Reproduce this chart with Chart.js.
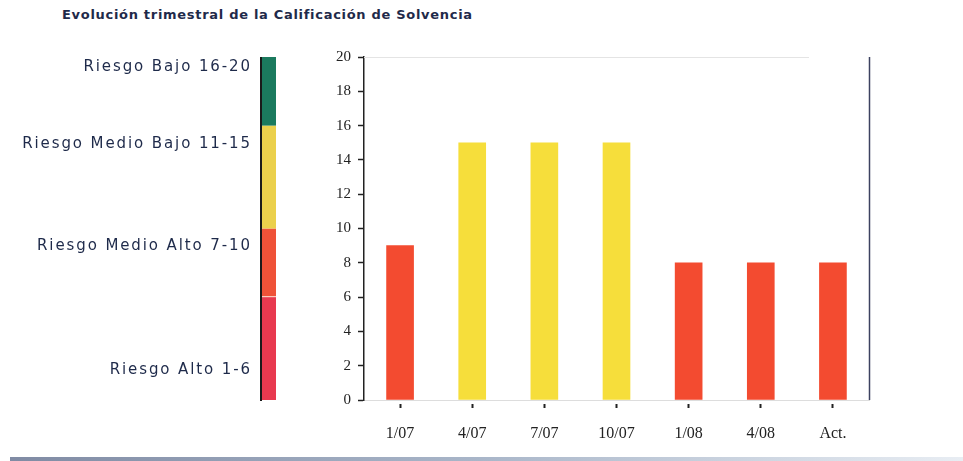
<!DOCTYPE html>
<html lang="es">
<head>
<meta charset="utf-8">
<title>Evolución trimestral de la Calificación de Solvencia</title>
<script src="https://cdn.jsdelivr.net/npm/chart.js@4.4.1/dist/chart.umd.min.js"></script>
<style>
  html, body { margin: 0; padding: 0; background: #fff; }
  .wrap { position: relative; width: 963px; height: 461px; overflow: hidden; }
  #title {
    position: absolute; left: 62px; top: 7px;
    font: bold 13px "DejaVu Sans", Verdana, sans-serif;
    letter-spacing: 0.7px;
    color: #1f2a4a; white-space: nowrap;
  }
  canvas { position: absolute; left: 0; top: 0; }
</style>
</head>
<body>
<div class="wrap">
  <div id="title">Evolución trimestral de la Calificación de Solvencia</div>
  <canvas id="chart" width="963" height="461"></canvas>
</div>
<script>
// ---- data ----
const periods = ['1/07', '4/07', '7/07', '10/07', '1/08', '4/08', 'Act.'];
const scores  = [9, 15, 15, 15, 8, 8, 8];
const barColors = ['#f34b30', '#f6de3b', '#f6de3b', '#f6de3b', '#f34b30', '#f34b30', '#f34b30'];

const yTicks = [0, 2, 4, 6, 8, 10, 12, 14, 16, 18, 20];

// risk scale shown on the left (from, to on the score axis)
const riskFrom   = [0, 6, 10, 16];
const riskTo     = [6, 10, 16, 20];
const riskColors = ['#e8394f', '#ef5238', '#ebd04c', '#1b7a5e'];
const riskLabels = ['Riesgo Alto 1-6', 'Riesgo Medio Alto 7-10', 'Riesgo Medio Bajo 11-15', 'Riesgo Bajo 16-20'];
const riskLabelAt = [1.75, 9, 14.9, 19.4];

// ---- extra drawing: risk band, frame lines, bottom rule ----
const decor = {
  id: 'decor',
  afterDraw(chart) {
    const { ctx, chartArea: a, scales: { y } } = chart;
    ctx.save();

    // faint top line and dark right border of the plot
    ctx.strokeStyle = '#e4e4e4';
    ctx.lineWidth = 1;
    ctx.beginPath();
    ctx.moveTo(a.left, a.top + 0.5);
    ctx.lineTo(a.right - 60, a.top + 0.5);
    ctx.stroke();

    ctx.strokeStyle = '#3c4260';
    ctx.lineWidth = 1.5;
    ctx.beginPath();
    ctx.moveTo(a.right + 0.5, a.top);
    ctx.lineTo(a.right + 0.5, a.bottom);
    ctx.stroke();

    // risk colour band on the same y scale
    const bx = 262, bw = 14;
    riskFrom.forEach((f, i) => {
      const top = y.getPixelForValue(riskTo[i]);
      const bot = y.getPixelForValue(f);
      ctx.fillStyle = riskColors[i];
      ctx.fillRect(bx, top, bw, bot - top);
    });
    // light divider between the two reds
    ctx.strokeStyle = 'rgba(255,230,220,0.9)';
    ctx.lineWidth = 1;
    ctx.beginPath();
    ctx.moveTo(bx, y.getPixelForValue(6) - 0.5);
    ctx.lineTo(bx + bw, y.getPixelForValue(6) - 0.5);
    ctx.stroke();
    // dark left edge
    ctx.strokeStyle = '#1a1a1a';
    ctx.lineWidth = 2;
    ctx.beginPath();
    ctx.moveTo(bx - 1, y.getPixelForValue(20));
    ctx.lineTo(bx - 1, y.getPixelForValue(0) + 1);
    ctx.stroke();

    // risk labels
    ctx.fillStyle = '#1e2a4a';
    ctx.font = '15px "DejaVu Sans", Verdana, sans-serif';
    ctx.letterSpacing = '1.9px';
    ctx.textAlign = 'right';
    ctx.textBaseline = 'middle';
    riskLabels.forEach((t, i) => {
      ctx.fillText(t, 252, y.getPixelForValue(riskLabelAt[i]));
    });
    ctx.letterSpacing = '0px';

    // bottom rule
    const g = ctx.createLinearGradient(0, 0, chart.width, 0);
    g.addColorStop(0, '#7f8aa3');
    g.addColorStop(0.5, '#a9b6c9');
    g.addColorStop(1, '#e8edf3');
    ctx.fillStyle = g;
    ctx.fillRect(10, 457, chart.width - 10, 4);

    ctx.restore();
  }
};

new Chart(document.getElementById('chart'), {
  type: 'bar',
  data: {
    labels: periods,
    datasets: [{
      data: scores,
      backgroundColor: barColors,
      borderWidth: 0,
      barThickness: 27
    }]
  },
  options: {
    responsive: false,
    animation: false,
    layout: { padding: { left: 290, top: 57, right: 94, bottom: 0 } },
    plugins: {
      legend: { display: false },
      tooltip: { enabled: false }
    },
    scales: {
      x: {
        grid: {
          display: true,
          drawOnChartArea: false,
          offset: false,
          tickLength: 8,
          tickWidth: 2,
          tickColor: '#222',
          tickBorderDash: [0, 3, 5, 20]
        },
        border: { color: '#dddddd', width: 1 },
        ticks: {
          color: '#222',
          padding: 16,
          font: { family: '"Liberation Serif", "Times New Roman", serif', size: 16 }
        },
        afterFit: s => { s.height = 61; }
      },
      y: {
        min: 0, max: 20,
        afterBuildTicks: s => { s.ticks = yTicks.map(v => ({ value: v })); },
        grid: {
          drawOnChartArea: false,
          tickLength: 6,
          tickWidth: 1.5,
          tickColor: '#222'
        },
        border: { color: '#222', width: 1.5 },
        ticks: {
          color: '#222',
          padding: 7,
          font: { family: '"Liberation Serif", "Times New Roman", serif', size: 15 }
        },
        afterFit: s => { s.width = 74; }
      }
    }
  },
  plugins: [decor]
});
</script>
</body>
</html>
